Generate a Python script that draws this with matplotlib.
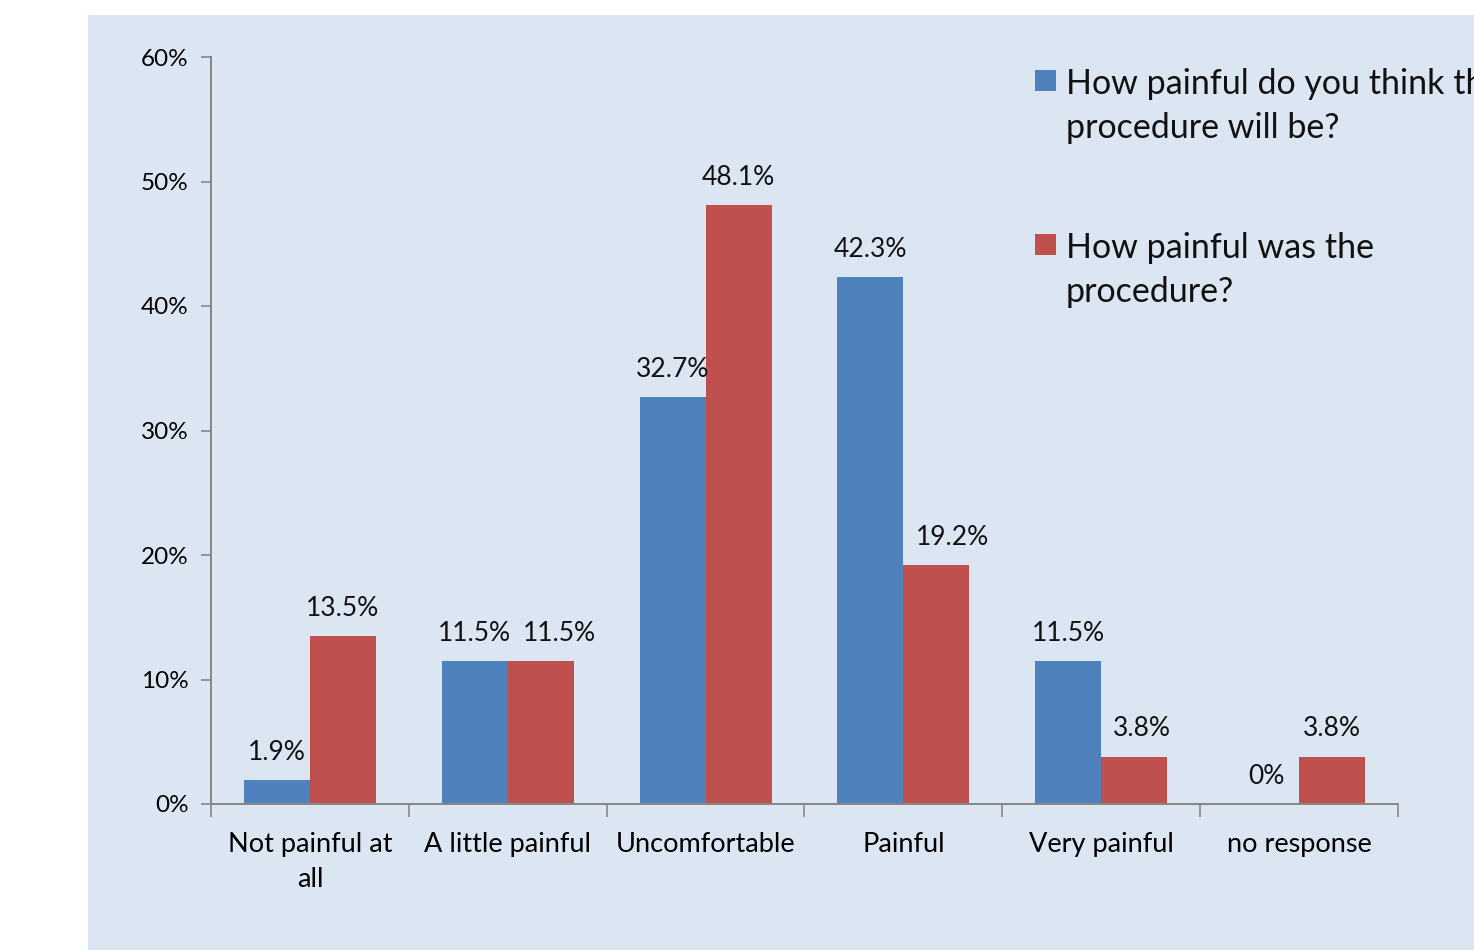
import numpy as np
import matplotlib
matplotlib.use("Agg")
import matplotlib.pyplot as plt
from matplotlib.patches import Rectangle
from matplotlib.ticker import FuncFormatter

plt.rcParams['font.family'] = ['Lato', 'DejaVu Sans']

# survey answers, percent of respondents
categories = ["Not painful at\nall", "A little painful", "Uncomfortable",
              "Painful", "Very painful", "no response"]
expected = [1.9, 11.5, 32.7, 42.3, 11.5, 0.0]
actual = [13.5, 11.5, 48.1, 19.2, 3.8, 3.8]
expected_labels = ["1.9%", "11.5%", "32.7%", "42.3%", "11.5%", "0%"]
actual_labels = ["13.5%", "11.5%", "48.1%", "19.2%", "3.8%", "3.8%"]
series_names = ["How painful do you think the\nprocedure will be?",
                "How painful was the\nprocedure?"]

blue = "#4F81BD"
red = "#C0504D"
panel = "#DCE6F2"
axis_grey = "#868686"

fig = plt.figure(figsize=(14.74, 9.5), dpi=100)
fig.patch.set_facecolor("white")

# light blue chart area behind everything
bg = fig.add_axes([88 / 1474, 0, 1, 935 / 950], zorder=0)
bg.set_facecolor(panel)
bg.set_xticks([])
bg.set_yticks([])
for s in bg.spines.values():
    s.set_visible(False)

ax = fig.add_axes([211 / 1474, 146 / 950, 1187 / 1474, 747 / 950], zorder=1)
ax.set_facecolor("none")

x = np.arange(len(categories))
w = 1 / 3
b1 = ax.bar(x - w / 2, expected, w, color=blue, zorder=2)
b2 = ax.bar(x + w / 2, actual, w, color=red, zorder=2)

annots = []
for bars, labels in ((b1, expected_labels), (b2, actual_labels)):
    row = []
    for rect, lab in zip(bars, labels):
        a = ax.annotate(lab, (rect.get_x() + rect.get_width() / 2, rect.get_height()),
                        xytext=(0, 11), textcoords="offset points",
                        ha="center", va="bottom", fontsize=19, color="#111111")
        row.append(a)
    annots.append(row)

ax.set_xlim(-0.5, len(categories) - 0.5)
ax.set_ylim(0, 60)
ax.set_yticks(np.arange(0, 61, 10))
ax.yaxis.set_major_formatter(FuncFormatter(lambda v, p: f"{v:.0f}%"))
ax.set_xticks(x)
ax.set_xticklabels(categories, fontsize=19.5, linespacing=1.5)
ax.set_xticks(np.arange(-0.5, len(categories)), minor=True)
ax.tick_params(axis="x", which="major", length=0, pad=20)
ax.tick_params(axis="x", which="minor", length=9, width=1.2, color=axis_grey, direction="out")
ax.tick_params(axis="y", length=7, width=1.2, color=axis_grey, pad=9, labelsize=17.5)

for side in ("top", "right"):
    ax.spines[side].set_visible(False)
for side in ("left", "bottom"):
    ax.spines[side].set_color(axis_grey)
    ax.spines[side].set_linewidth(1.4)

# push a red-bar label right when it runs into the blue bar or its label
fig.canvas.draw()
renderer = fig.canvas.get_renderer()
px_to_pt = 72 / fig.dpi
gap = 12
for left, right, bar in zip(annots[0], annots[1], b1):
    rb = right.get_window_extent(renderer)
    limit = None
    for box in (left.get_window_extent(renderer), bar.get_window_extent(renderer)):
        if rb.y0 < box.y1 and rb.y1 > box.y0 and rb.x0 < box.x1 + gap:
            limit = max(limit or box.x1, box.x1)
    if limit is not None:
        shift = (limit + gap - rb.x0) * px_to_pt
        right.xyann = (right.xyann[0] + shift, right.xyann[1])

# legend drawn as square markers with wrapped text beside them
for i, (name, col) in enumerate(zip(series_names, [blue, red])):
    top = 1 - (70 + i * 164) / 950
    fig.patches.append(Rectangle((1035 / 1474, top - 21 / 950), 21 / 1474, 21 / 950,
                                 transform=fig.transFigure, facecolor=col,
                                 edgecolor="none", zorder=3))
    fig.text(1066 / 1474, top + 2 / 950, name, fontsize=24.5, va="top", ha="left",
             linespacing=1.45, color="#111111", zorder=3)

fig.savefig("out.png", dpi=100)
